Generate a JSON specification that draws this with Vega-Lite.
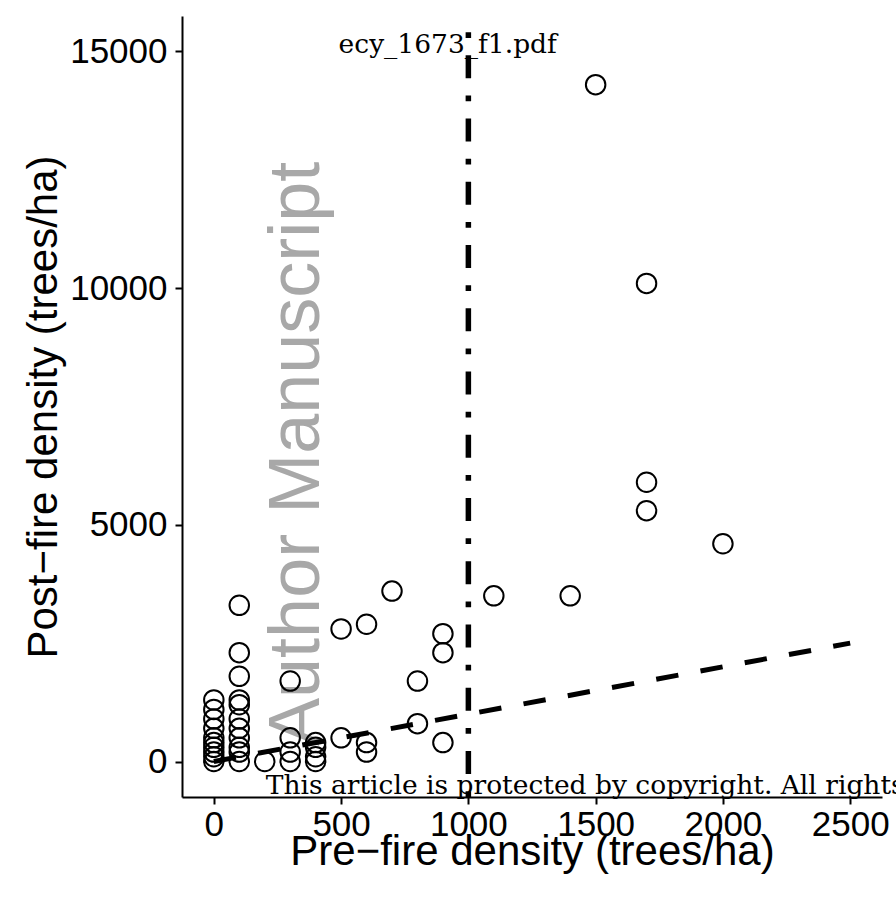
{
  "$schema": "https://vega.github.io/schema/vega-lite/v6.json",
  "width": 700,
  "height": 781,
  "autosize": "none",
  "padding": {"left": 182, "top": 16, "right": 14, "bottom": 107},
  "background": "white",
  "data": {"values": [{}]},
  "config": {
    "view": {"stroke": null},
    "axis": {
      "grid": false,
      "domainColor": "black",
      "domainWidth": 2,
      "tickColor": "black",
      "tickWidth": 2,
      "tickSize": 7,
      "labelFont": "Liberation Sans",
      "labelFontSize": 35,
      "labelColor": "black",
      "titleFont": "Liberation Sans",
      "titleFontSize": 42,
      "titleFontWeight": "normal",
      "titleColor": "black"
    }
  },
  "datasets": {
    "pts": [
      {"pre": 0, "post": 1300}, {"pre": 0, "post": 1100}, {"pre": 0, "post": 900}, {"pre": 0, "post": 700},
      {"pre": 0, "post": 500}, {"pre": 0, "post": 400}, {"pre": 0, "post": 300}, {"pre": 0, "post": 200},
      {"pre": 0, "post": 100}, {"pre": 0, "post": 0},
      {"pre": 100, "post": 3300}, {"pre": 100, "post": 2300}, {"pre": 100, "post": 1800}, {"pre": 100, "post": 1300},
      {"pre": 100, "post": 1200}, {"pre": 100, "post": 900}, {"pre": 100, "post": 700}, {"pre": 100, "post": 500},
      {"pre": 100, "post": 300}, {"pre": 100, "post": 200}, {"pre": 100, "post": 0},
      {"pre": 200, "post": 0},
      {"pre": 300, "post": 1700}, {"pre": 300, "post": 500}, {"pre": 300, "post": 200}, {"pre": 300, "post": 0},
      {"pre": 400, "post": 400}, {"pre": 400, "post": 300}, {"pre": 400, "post": 100}, {"pre": 400, "post": 0},
      {"pre": 500, "post": 2800}, {"pre": 500, "post": 500},
      {"pre": 600, "post": 2900}, {"pre": 600, "post": 400}, {"pre": 600, "post": 200},
      {"pre": 700, "post": 3600},
      {"pre": 800, "post": 1700}, {"pre": 800, "post": 800},
      {"pre": 900, "post": 2700}, {"pre": 900, "post": 2300}, {"pre": 900, "post": 400},
      {"pre": 1100, "post": 3500},
      {"pre": 1400, "post": 3500},
      {"pre": 1500, "post": 14300},
      {"pre": 1700, "post": 10100}, {"pre": 1700, "post": 5900}, {"pre": 1700, "post": 5300},
      {"pre": 2000, "post": 4600}
    ]
  },
  "layer": [
    {
      "mark": {"type": "text", "font": "Liberation Sans", "fontSize": 72, "color": "#a8a8a8", "angle": 270, "align": "center", "baseline": "middle"},
      "encoding": {
        "x": {"datum": 326, "type": "quantitative", "scale": {"domain": [-125, 2625], "nice": false, "zero": false}},
        "y": {"datum": 6500, "type": "quantitative", "scale": {"domain": [-750, 15750], "nice": false, "zero": false}},
        "text": {"value": "Author Manuscript"}
      }
    },
    {
      "mark": {"type": "rule", "color": "black", "strokeWidth": 5, "strokeDash": [22.5, 22.5]},
      "encoding": {
        "x": {"datum": 0, "type": "quantitative"},
        "y": {"datum": 0, "type": "quantitative"},
        "x2": {"datum": 2500},
        "y2": {"datum": 2500}
      }
    },
    {
      "mark": {"type": "rule", "color": "black", "strokeWidth": 5.5, "strokeDash": [5.75, 17.25, 23, 17.25]},
      "encoding": {
        "x": {"datum": 1000, "type": "quantitative"},
        "y": {"datum": -750, "type": "quantitative"},
        "y2": {"datum": 15750}
      }
    },
    {
      "data": {"name": "pts"},
      "mark": {"type": "point", "shape": "circle", "filled": false, "color": "black", "strokeWidth": 2, "size": 380, "opacity": 1},
      "encoding": {
        "x": {
          "field": "pre", "type": "quantitative",
          "scale": {"domain": [-125, 2625], "nice": false, "zero": false},
          "axis": {"values": [0, 500, 1000, 1500, 2000, 2500], "format": "d", "title": "Pre\u2212fire density (trees/ha)", "labelPadding": 3, "titleY": 67, "titleBaseline": "alphabetic"}
        },
        "y": {
          "field": "post", "type": "quantitative",
          "scale": {"domain": [-750, 15750], "nice": false, "zero": false},
          "axis": {"values": [0, 5000, 10000, 15000], "format": "d", "title": "Post\u2212fire density (trees/ha)", "labelPadding": 8, "titleX": -126, "titleBaseline": "alphabetic"}
        }
      }
    },
    {
      "mark": {"type": "text", "font": "DejaVu Serif", "fontSize": 26.5, "color": "black", "align": "center", "baseline": "alphabetic"},
      "encoding": {
        "x": {"datum": 919, "type": "quantitative"},
        "y": {"datum": 14975, "type": "quantitative"},
        "text": {"value": "ecy_1673_f1.pdf"}
      }
    },
    {
      "mark": {"type": "text", "font": "DejaVu Serif", "fontSize": 26.5, "color": "black", "align": "left", "baseline": "alphabetic"},
      "encoding": {
        "x": {"datum": 204, "type": "quantitative"},
        "y": {"datum": -697, "type": "quantitative"},
        "text": {"value": "This article is protected by copyright. All rights reserved."}
      }
    }
  ]
}
